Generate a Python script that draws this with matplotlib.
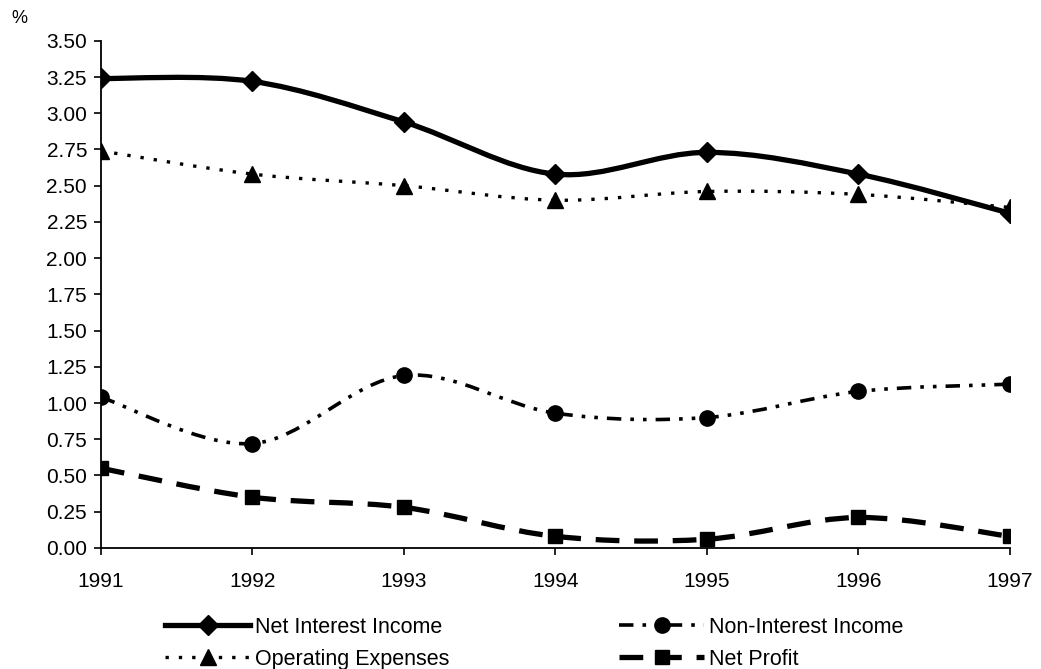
import numpy as np
import matplotlib
matplotlib.use("Agg")
import matplotlib.pyplot as plt
from matplotlib.path import Path
from matplotlib.patches import PathPatch
from matplotlib.lines import Line2D

plt.rcParams['font.family'] = ['Liberation Sans', 'DejaVu Sans']

years = [1991, 1992, 1993, 1994, 1995, 1996, 1997]
net_interest_income = [3.24, 3.22, 2.94, 2.58, 2.73, 2.58, 2.31]
operating_expenses = [2.74, 2.58, 2.50, 2.40, 2.46, 2.44, 2.35]
non_interest_income = [1.04, 0.72, 1.19, 0.93, 0.90, 1.08, 1.13]
net_profit = [0.55, 0.35, 0.28, 0.08, 0.06, 0.21, 0.08]
y_ticks = [0.0, 0.25, 0.5, 0.75, 1.0, 1.25, 1.5, 1.75, 2.0, 2.25, 2.5, 2.75, 3.0, 3.25, 3.5]

FS = 15


def smooth_path(xs, ys):
    """Cubic Bezier path through the points (Catmull-Rom style smoothing)."""
    xs = np.asarray(xs, float)
    ys = np.asarray(ys, float)
    pts = np.column_stack([xs, ys])
    n = len(pts)
    verts = [pts[0]]
    codes = [Path.MOVETO]
    for i in range(n - 1):
        p0 = pts[i - 1] if i > 0 else pts[i]
        p1 = pts[i]
        p2 = pts[i + 1]
        p3 = pts[i + 2] if i + 2 < n else pts[i + 1]
        c1 = p1 + (p2 - p0) / 6.0
        c2 = p2 - (p3 - p1) / 6.0
        verts += [c1, c2, p2]
        codes += [Path.CURVE4] * 3
    return Path(verts, codes)


fig = plt.figure(figsize=(10.41, 6.69), dpi=100)
ax = fig.add_axes([0.097, 0.181, 0.873, 0.758])

series = {
    'Net Interest Income': (net_interest_income, dict(lw=3.8, ls='-'), 'D', 10),
    'Non-Interest Income': (non_interest_income, dict(lw=2.6, ls=(0, (4, 2.5, 1, 2.5, 1, 2.5))), 'o', 11),
    'Operating Expenses': (operating_expenses, dict(lw=2.4, ls=(0, (1, 3))), '^', 11),
    'Net Profit': (net_profit, dict(lw=3.8, ls=(0, (4.5, 2.8))), 's', 10.5),
}

handles = {}
for label, (vals, style, marker, ms) in series.items():
    patch = PathPatch(smooth_path(years, vals), facecolor='none', edgecolor='black',
                      linewidth=style['lw'], linestyle=style['ls'], capstyle='butt')
    ax.add_patch(patch)
    ax.plot(years, vals, ls='none', marker=marker, ms=ms, color='black', zorder=3)
    handles[label] = Line2D([], [], color='black', lw=style['lw'], ls=style['ls'],
                            marker=marker, ms=ms, label=label)

ax.set_xlim(1991, 1997)
ax.set_ylim(0, 3.5)
ax.set_yticks(y_ticks)
ax.set_yticklabels([f'{t:.2f}' for t in y_ticks])
ax.set_xticks(years)
ax.set_xticklabels([str(y) for y in years])
for s in ['top', 'right']:
    ax.spines[s].set_visible(False)
for s in ['left', 'bottom']:
    ax.spines[s].set_linewidth(1.3)
ax.tick_params(axis='both', direction='out', length=5, width=1.2, labelsize=FS, colors='black')
ax.tick_params(axis='x', pad=12)
ax.tick_params(axis='y', pad=5)

fig.text(0.011, 0.972, '%', fontsize=FS - 2, ha='left', va='center')

# legend filled column-wise: left column then right column
order = ['Net Interest Income', 'Operating Expenses', 'Non-Interest Income', 'Net Profit']
leg = fig.legend(handles=[handles[k] for k in order], loc='upper left',
                 bbox_to_anchor=(0.1585, 0.078), ncol=2, borderaxespad=0, borderpad=0,
                 frameon=False, fontsize=FS + 0.5, handlelength=3.95, handletextpad=0.23,
                 columnspacing=7.9, labelspacing=0.5)

fig.savefig('out.png', dpi=100)
